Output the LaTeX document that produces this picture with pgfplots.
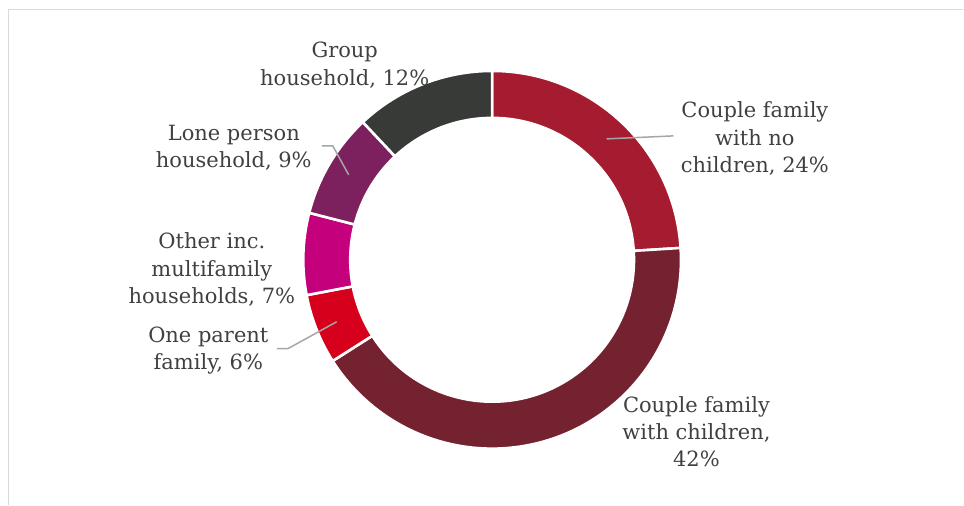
\documentclass[border=0pt]{standalone}
\usepackage{pgfplots}
\pgfplotsset{compat=1.18}
\usepackage{pgfplotstable}
\usepackage{fontspec}
\setmainfont{DejaVu Serif}
\definecolor{cA}{HTML}{A51C30}
\definecolor{cB}{HTML}{74222F}
\definecolor{cC}{HTML}{D6001C}
\definecolor{cD}{HTML}{C4007C}
\definecolor{cE}{HTML}{7D215E}
\definecolor{cF}{HTML}{383A37}
\definecolor{txt}{HTML}{404040}
\definecolor{lead}{HTML}{A6A6A6}
\definecolor{frame}{HTML}{D9D9D9}
\tikzset{lbl/.style={font=\fontsize{21}{27.5}\selectfont, text=txt, align=center, inner sep=0pt}}
\pgfplotstableread{
label value color
NoChildren 24 cA
WithChildren 42 cB
OneParent 6 cC
Other 7 cD
Lone 9 cE
Group 12 cF
}\donut
\begin{document}
\begin{tikzpicture}
\begin{axis}[
  scale only axis, width=964pt, height=505pt,
  xmin=0, xmax=964, ymin=0, ymax=505,
  hide axis, clip=false,
]
\path (axis cs:0,0) rectangle (axis cs:964,505);
\draw[frame, line width=1.5pt] (axis cs:8.5,0) -- (axis cs:8.5,495.5) -- (axis cs:964,495.5);
\pgfmathsetmacro{\cum}{0}
\pgfplotsforeachungrouped \i in {0,...,5}{%
  \pgfplotstablegetelem{\i}{value}\of\donut \let\v\pgfplotsretval
  \pgfplotstablegetelem{\i}{color}\of\donut \let\col\pgfplotsretval
  \pgfmathsetmacro{\a}{90-3.6*\cum}%
  \pgfmathsetmacro{\b}{90-3.6*(\cum+\v)}%
  \edef\temp{\noexpand\fill[fill=\col, draw=white, line width=2.6pt, line join=miter]
    (axis cs:492.5,245) ++(\a:189pt) arc[start angle=\a, end angle=\b, radius=189pt]
    -- ++(\b:-47pt) arc[start angle=\b, end angle=\a, radius=142pt] -- cycle;}%
  \temp
  \pgfmathsetmacro{\cum}{\cum+\v}%
}
\draw[lead, line width=1.5pt] (axis cs:607,366) -- (axis cs:674,369);
\draw[lead, line width=1.5pt] (axis cs:322,359) -- (axis cs:333,359) -- (axis cs:349,330);
\draw[lead, line width=1.5pt] (axis cs:277,156) -- (axis cs:288,156) -- (axis cs:337,183);
\node[lbl] at (axis cs:345,440) {Group\\household, 12\%};
\node[lbl] at (axis cs:234,357) {Lone person\\household, 9\%};
\node[lbl] at (axis cs:212,235) {Other inc.\\multifamily\\households, 7\%};
\node[lbl] at (axis cs:208.5,154) {One parent\\family, 6\%};
\node[lbl] at (axis cs:755.5,366) {Couple family\\with no\\children, 24\%};
\node[lbl] at (axis cs:697,73) {Couple family\\with children,\\42\%};
\end{axis}
\end{tikzpicture}
\end{document}
